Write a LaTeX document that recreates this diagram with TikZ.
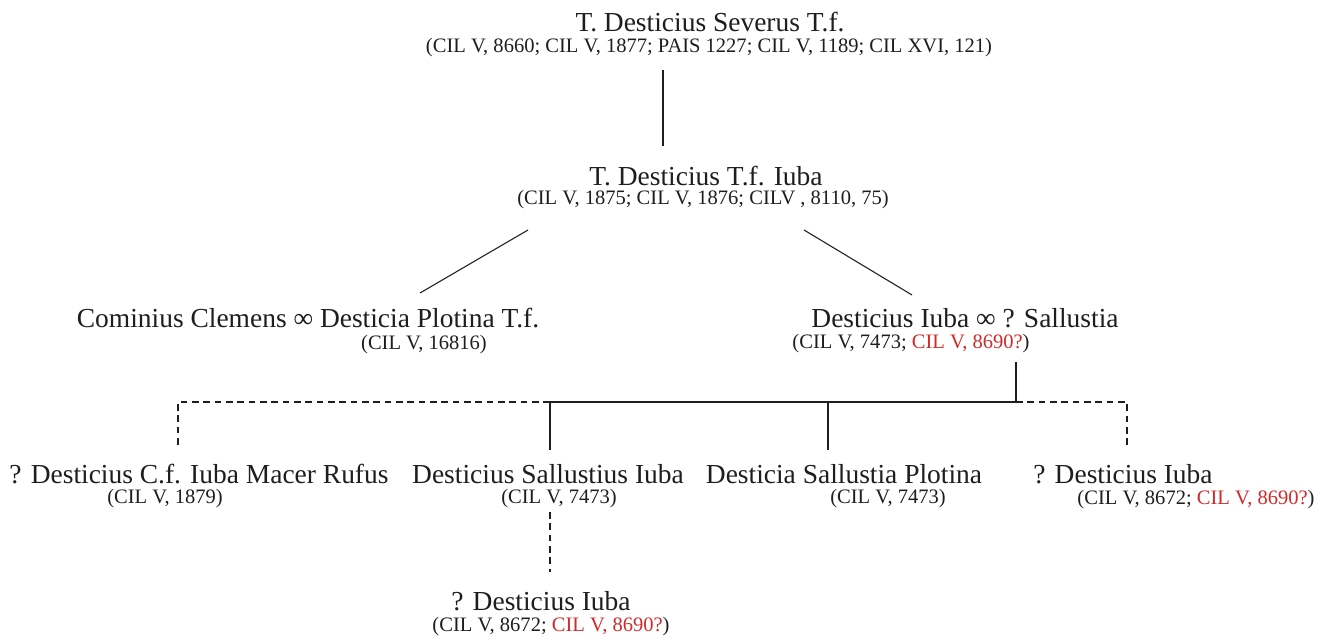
\documentclass[tikz,border=0pt]{standalone}
\usepackage{fontspec}
\setmainfont{Liberation Serif}
\usepackage{xcolor}
\usepackage{tikz}
\definecolor{gnInk}{HTML}{1E1E1E}
\definecolor{gnRed}{HTML}{D02A2A}
\tikzset{
  gn diagram/.style={text=gnInk, line cap=butt, line join=miter},
  gn name/.style={font=\fontsize{20.6}{24}\selectfont, inner sep=0pt},
  gn ref/.style={font=\fontsize{15.4}{18}\selectfont, inner sep=0pt},
  gn line/.style={draw=gnInk, line width=0.8pt},
  gn unsure/.style={gn line, dash pattern=on 5pt off 3.5pt}
}
\newcommand{\gnq}[1]{\textcolor{gnRed}{#1}}

\begin{document}
\begin{tikzpicture}[gn diagram,x=0.75pt,y=-0.75pt]
\useasboundingbox[fill=white] (0,0) rectangle (1334,641);
% generation I
\node[gn name] (sev) at (710,22) {T. Desticius Severus T.f.};
\node[gn ref] (sevref) at (709,48) {(CIL V, 8660; CIL V, 1877; PAIS 1227; CIL V, 1189; CIL XVI, 121)};
% generation II
\node[gn name] (iuba) at (706,176) {T. Desticius T.f. Iuba};
\node[gn ref] (iubaref) at (703,200) {(CIL V, 1875; CIL V, 1876; CILV , 8110, 75)};
% generation III
\node[gn name] (plot) at (308,318) {Cominius Clemens ∞ Desticia Plotina T.f.};
\node[gn ref] (plotref) at (424,345) {(CIL V, 16816)};
\node[gn name] (sall) at (965,318) {Desticius Iuba ∞ ? Sallustia};
\node[gn ref] (sallref) at (911,344) {(CIL V, 7473; \gnq{CIL V, 8690?})};
% generation IV
\node[gn name] (macer) at (199,474) {? Desticius C.f. Iuba Macer Rufus};
\node[gn ref] (macerref) at (165,499) {(CIL V, 1879)};
\node[gn name] (salliuba) at (548,474) {Desticius Sallustius Iuba};
\node[gn ref] (salliubaref) at (559,499) {(CIL V, 7473)};
\node[gn name] (sallplot) at (844,474) {Desticia Sallustia Plotina};
\node[gn ref] (sallplotref) at (888,499) {(CIL V, 7473)};
\node[gn name] (iubb) at (1123,474) {? Desticius Iuba};
\node[gn ref] (iubbref) at (1196,500) {(CIL V, 8672; \gnq{CIL V, 8690?})};
% generation V
\node[gn name] (iubc) at (541,601) {? Desticius Iuba};
\node[gn ref] (iubcref) at (551,627) {(CIL V, 8672; \gnq{CIL V, 8690?})};

% line ends
\coordinate (s0) at (663,70);
\coordinate (s1) at (663,146);
\coordinate (l0) at (528,230);
\coordinate (l1) at (420,293);
\coordinate (r0) at (804,230);
\coordinate (r1) at (912,295);
\coordinate (c0) at (1016,362);
\coordinate (c1) at (1016,402);
\coordinate (b1) at (178,402);
\coordinate (b2) at (550,402);
\coordinate (b3) at (828,402);
\coordinate (b4) at (1127,402);
\coordinate (d1) at (178,447);
\coordinate (d2) at (550,450);
\coordinate (d3) at (828,450);
\coordinate (d4) at (1127,448);
\coordinate (e0) at (550,512);
\coordinate (e1) at (550,572);

\draw[gn line] (s0) -- (s1);
\draw[gn line] (l0) -- (l1);
\draw[gn line] (r0) -- (r1);
\draw[gn line] (c0) -- (c1);
\draw[gn line] (b2) -- (c1);
\draw[gn unsure] (b2) -- (b1) -- (d1);
\draw[gn unsure] (c1) -- (b4) -- (d4);
\draw[gn line] (b2) -- (d2);
\draw[gn line] (b3) -- (d3);
\draw[gn unsure] (e0) -- (e1);
\end{tikzpicture}
\end{document}
